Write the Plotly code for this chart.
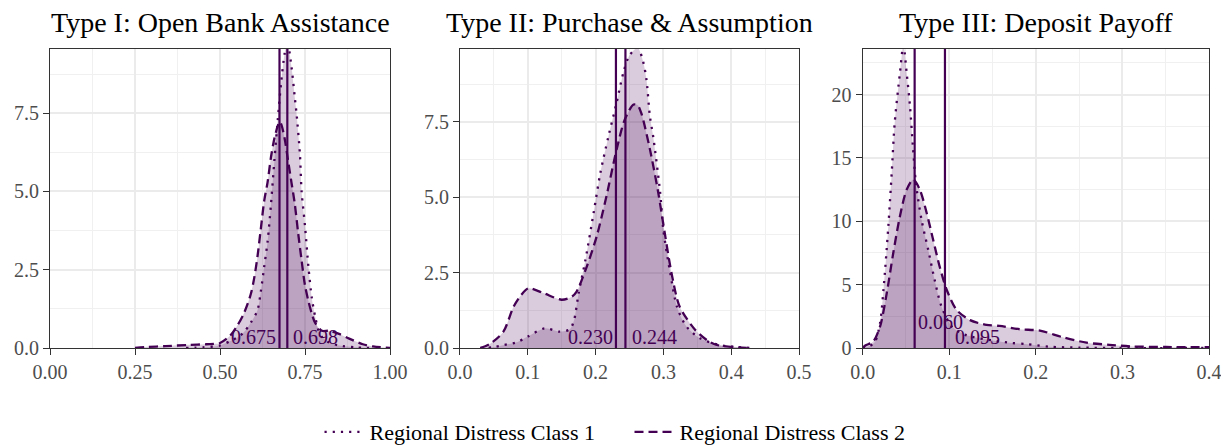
import plotly.graph_objects as go

# ---------------- data ----------------
titles = ["Type I: Open Bank Assistance", "Type II: Purchase & Assumption", "Type III: Deposit Payoff"]
series_names = ["Regional Distress Class 1", "Regional Distress Class 2"]

# Panel 1 densities
p1_c1_x = [0.40, 0.45, 0.50, 0.53, 0.55, 0.57, 0.59, 0.61, 0.62, 0.63, 0.64, 0.65, 0.66, 0.67, 0.68, 0.69, 0.698,
           0.71, 0.72, 0.725, 0.735, 0.74, 0.75, 0.76, 0.77, 0.78, 0.79, 0.80, 0.82, 0.85, 0.90, 0.95]
p1_c1_d = [0.0, 0.02, 0.08, 0.22, 0.33, 0.5, 0.8, 1.2, 1.8, 2.6, 3.4, 4.6, 6.0, 7.3, 8.5, 9.4, 9.8,
           9.0, 8.0, 7.5, 6.2, 5.0, 3.9, 2.6, 1.6, 1.0, 0.55, 0.35, 0.18, 0.08, 0.02, 0.0]
p1_c2_x = [0.25, 0.28, 0.34, 0.41, 0.46, 0.50, 0.53, 0.55, 0.57, 0.59, 0.60, 0.61, 0.62, 0.63, 0.64, 0.65, 0.66,
           0.67, 0.675, 0.68, 0.69, 0.70, 0.71, 0.72, 0.73, 0.74, 0.75, 0.76, 0.77, 0.78, 0.80, 0.82, 0.85,
           0.88, 0.92, 0.95, 1.0]
p1_c2_d = [0.0, 0.03, 0.06, 0.1, 0.12, 0.16, 0.4, 0.7, 1.1, 1.7, 2.2, 2.9, 3.8, 4.7, 5.3, 6.1, 6.7,
           7.1, 7.23, 7.15, 6.7, 6.0, 5.3, 4.6, 3.66, 2.8, 2.0, 1.5, 1.1, 0.8, 0.55, 0.55, 0.45,
           0.3, 0.12, 0.05, 0.0]

# Panel 2 densities
p2_c1_x = [0.03, 0.05, 0.065, 0.085, 0.10, 0.125, 0.147, 0.162, 0.168, 0.175, 0.185, 0.197, 0.207, 0.219, 0.231,
           0.241, 0.25, 0.262, 0.27, 0.275, 0.28, 0.285, 0.295, 0.30, 0.31, 0.32, 0.334, 0.354, 0.383, 0.41, 0.43]
p2_c1_d = [0.0, 0.03, 0.1, 0.2, 0.38, 0.65, 0.54, 0.62, 0.9, 1.82, 2.92, 4.47, 5.8, 7.02, 8.13,
           9.13, 9.7, 9.95, 9.5, 8.9, 7.7, 7.0, 5.2, 3.9, 2.5, 1.37, 0.71, 0.32, 0.1, 0.03, 0.0]
p2_c2_x = [0.03, 0.045, 0.064, 0.079, 0.09, 0.101, 0.123, 0.15, 0.165, 0.172, 0.187, 0.2016, 0.216, 0.231, 0.243,
           0.256, 0.262, 0.268, 0.28, 0.292, 0.302, 0.312, 0.324, 0.347, 0.365, 0.379, 0.41, 0.43]
p2_c2_d = [0.0, 0.15, 0.54, 1.37, 1.75, 1.98, 1.82, 1.6, 1.7, 1.87, 2.7, 3.7, 5.03, 6.58, 7.57,
           8.07, 8.05, 7.74, 6.6, 5.2, 3.81, 2.48, 1.37, 0.6, 0.25, 0.1, 0.02, 0.0]

# Panel 3 densities
p3_c1_x = [0.0, 0.008, 0.0143, 0.02, 0.024, 0.0296, 0.0335, 0.037, 0.043, 0.047, 0.0508, 0.0546, 0.058, 0.0615,
           0.068, 0.0757, 0.083, 0.091, 0.103, 0.12, 0.15, 0.172, 0.19, 0.216, 0.25, 0.3, 0.4]
p3_c1_d = [0.0, 0.15, 0.5, 1.95, 4.6, 9.6, 13.8, 17.8, 21.7, 23.9, 21.7, 19.1, 15.9, 13.0,
           10.1, 7.75, 5.4, 3.27, 1.69, 1.0, 0.6, 0.4, 0.3, 0.1, 0.03, 0.0, 0.0]
p3_c2_x = [0.0, 0.003, 0.012, 0.02, 0.0277, 0.0353, 0.043, 0.0508, 0.0584, 0.066, 0.0739, 0.0815, 0.089, 0.097,
           0.1085, 0.124, 0.143, 0.158, 0.1815, 0.2047, 0.231, 0.2585, 0.285, 0.312, 0.35, 0.4]
p3_c2_d = [0.0, 0.2, 0.5, 1.69, 4.3, 7.5, 10.4, 12.5, 13.3, 12.5, 10.65, 8.5, 6.4, 4.6,
           3.0, 2.2, 1.82, 1.74, 1.48, 1.37, 0.85, 0.42, 0.25, 0.12, 0.08, 0.06]

# vertical reference lines (values shown as labels)
vline_values = [[0.675, 0.698], [0.230, 0.244], [0.060, 0.095]]
vline_labels = [["0.675", "0.698"], ["0.230", "0.244"], ["0.060", "0.095"]]
label_heights = [[0.36, 0.36], [0.375, 0.375], [2.08, 0.86]]

# axis ranges / ticks
x_ranges = [[0, 1], [0, 0.5], [0, 0.4]]
y_ranges = [[0, 9.55], [0, 9.91], [0, 23.6]]
x_tickvals = [[0, 0.25, 0.5, 0.75, 1.0], [0, 0.1, 0.2, 0.3, 0.4, 0.5], [0, 0.1, 0.2, 0.3, 0.4]]
x_ticktext = [["0.00", "0.25", "0.50", "0.75", "1.00"], ["0.0", "0.1", "0.2", "0.3", "0.4", "0.5"],
              ["0.0", "0.1", "0.2", "0.3", "0.4"]]
y_tickvals = [[0, 2.5, 5, 7.5], [0, 2.5, 5, 7.5], [0, 5, 10, 15, 20]]
y_ticktext = [["0.0", "2.5", "5.0", "7.5"], ["0.0", "2.5", "5.0", "7.5"], ["0", "5", "10", "15", "20"]]
x_minor = [0.125, 0.05, 0.05]
y_minor = [1.25, 1.25, 2.5]

# ---------------- style ----------------
PURPLE = "#440154"
FILL = "rgba(68,1,84,0.2)"
FONT = "Liberation Serif"
domains = [[0.0, 0.29336], [0.35375, 0.64625], [0.70121, 1.0]]
dash_styles = ["2.2px,6px", "9px,5px"]

curves = [
    [(p1_c1_x, p1_c1_d), (p1_c2_x, p1_c2_d)],
    [(p2_c1_x, p2_c1_d), (p2_c2_x, p2_c2_d)],
    [(p3_c1_x, p3_c1_d), (p3_c2_x, p3_c2_d)],
]

fig = go.Figure()
for i in range(3):
    xa = "x" if i == 0 else f"x{i+1}"
    ya = "y" if i == 0 else f"y{i+1}"
    for k, (xs, ds) in enumerate(curves[i]):
        fig.add_trace(go.Scatter(x=xs, y=ds, xaxis=xa, yaxis=ya, mode="lines",
                                 line=dict(width=0, shape="spline", smoothing=0.8),
                                 fill="tozeroy", fillcolor=FILL, showlegend=False, hoverinfo="skip"))
    for k, (xs, ds) in enumerate(curves[i]):
        fig.add_trace(go.Scatter(x=xs, y=ds, xaxis=xa, yaxis=ya, mode="lines",
                                 line=dict(color=PURPLE, width=2.3, dash=dash_styles[k], shape="spline", smoothing=0.8),
                                 name=series_names[k], showlegend=(i == 0), legendgroup=series_names[k]))

shapes = []
annotations = []
xshifts = [[-2, 4], [-1, 5], [1, 8]]
anchors = [["right", "left"], ["right", "left"], ["left", "left"]]
for i in range(3):
    xr = "x" if i == 0 else f"x{i+1}"
    yr = "y" if i == 0 else f"y{i+1}"
    for k in range(2):
        v = vline_values[i][k]
        shapes.append(dict(type="line", xref=xr, yref=f"{yr} domain", x0=v, x1=v, y0=0, y1=1,
                           line=dict(color=PURPLE, width=2.2)))
        annotations.append(dict(x=v, y=label_heights[i][k], xref=xr, yref=yr, text=vline_labels[i][k],
                                showarrow=False, xanchor=anchors[i][k], yanchor="middle",
                                xshift=xshifts[i][k], font=dict(family=FONT, size=20, color=PURPLE)))
    annotations.append(dict(x=(domains[i][0] + domains[i][1]) / 2, y=1.09, xref="paper", yref="paper",
                            text=titles[i], showarrow=False, xanchor="center", yanchor="middle",
                            font=dict(family=FONT, size=28, color="#000000")))

layout = dict(
    width=1229, height=445,
    margin=dict(l=42, r=28, t=41, b=105, autoexpand=False),
    paper_bgcolor="white", plot_bgcolor="white",
    font=dict(family=FONT, size=20, color="#4d4d4d"),
    shapes=shapes, annotations=annotations,
    showlegend=True,
    legend=dict(orientation="h", x=0.5, xanchor="center", y=-0.281, yanchor="middle",
                font=dict(family=FONT, size=22, color="#000000"), itemwidth=40, entrywidth=255,
                traceorder="normal", bgcolor="rgba(0,0,0,0)"),
)
for i in range(3):
    xk = "xaxis" if i == 0 else f"xaxis{i+1}"
    yk = "yaxis" if i == 0 else f"yaxis{i+1}"
    ya = "y" if i == 0 else f"y{i+1}"
    xa = "x" if i == 0 else f"x{i+1}"
    layout[xk] = dict(domain=domains[i], anchor=ya, range=x_ranges[i], tickvals=x_tickvals[i],
                      ticktext=x_ticktext[i], showgrid=True, gridcolor="#ebebeb", gridwidth=1.6,
                      showline=True, linecolor="#333333", linewidth=1.2, mirror=True,
                      ticks="outside", ticklen=6, tickcolor="#333333", tickwidth=1.3, zeroline=False,
                      tickfont=dict(family=FONT, size=20, color="#4d4d4d"),
                      minor=dict(dtick=x_minor[i], tick0=0, showgrid=True, gridcolor="#f0f0f0", gridwidth=1.0, ticks=""))
    layout[yk] = dict(domain=[0, 1], anchor=xa, range=y_ranges[i], tickvals=y_tickvals[i],
                      ticktext=y_ticktext[i], showgrid=True, gridcolor="#ebebeb", gridwidth=1.6,
                      showline=True, linecolor="#333333", linewidth=1.2, mirror=True,
                      ticks="outside", ticklen=6, tickcolor="#333333", tickwidth=1.3, zeroline=False,
                      tickfont=dict(family=FONT, size=20, color="#4d4d4d"),
                      minor=dict(dtick=y_minor[i], tick0=0, showgrid=True, gridcolor="#f0f0f0", gridwidth=1.0, ticks=""))
fig.update_layout(**layout)
fig.write_html("out.html")
